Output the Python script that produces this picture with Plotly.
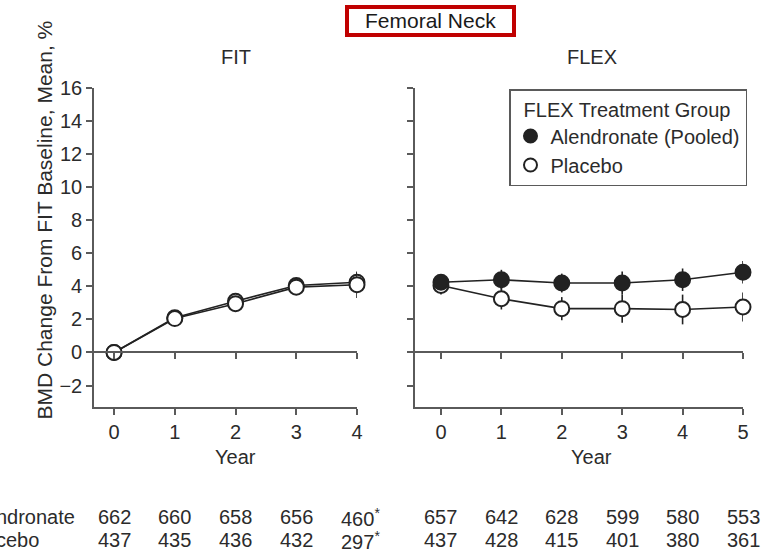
import plotly.graph_objects as go

# ---- data -------------------------------------------------------------
fit_years = [0, 1, 2, 3, 4]
fit_alendronate = [0.0, 2.1, 3.1, 4.05, 4.25]
fit_alendronate_err = [0.1, 0.15, 0.2, 0.2, 0.6]
fit_placebo = [0.0, 2.05, 2.95, 3.95, 4.1]
fit_placebo_err = [0.1, 0.15, 0.2, 0.2, 0.8]

flex_years = [0, 1, 2, 3, 4, 5]
flex_alendronate = [4.25, 4.4, 4.2, 4.2, 4.4, 4.85]
flex_alendronate_err = [0.3, 0.6, 0.57, 0.7, 0.68, 0.68]
flex_placebo = [4.05, 3.25, 2.65, 2.65, 2.6, 2.75]
flex_placebo_err = [0.55, 0.65, 0.7, 0.85, 0.9, 0.87]

fit_n_alendronate = ["662", "660", "658", "656", "460<sup>*</sup>"]
fit_n_placebo = ["437", "435", "436", "432", "297<sup>*</sup>"]
flex_n_alendronate = ["657", "642", "628", "599", "580", "553"]
flex_n_placebo = ["437", "428", "415", "401", "380", "361"]

y_ticks = [-2, 0, 2, 4, 6, 8, 10, 12, 14, 16]
y_range = [-3.3, 16]

# ---- styling ----------------------------------------------------------
W, H = 773, 553
FONT = "Liberation Sans, Arial, sans-serif"
TXT = "#2b2b2b"
AX = "#5a5a5a"
LINE = "#222222"
FS = 20

y_dom = [1 - 407 / H, 1 - 88 / H]
left_dom = [94 / W, 357 / W]
right_dom = [415 / W, 743 / W]
zero_pos = y_dom[0] + (0 - y_range[0]) / (y_range[1] - y_range[0]) * (y_dom[1] - y_dom[0])


def series(x, y, err, filled, xa, ya):
    return go.Scatter(
        x=x, y=y, mode="lines+markers", xaxis=xa, yaxis=ya,
        line=dict(color=LINE, width=1.6),
        marker=dict(size=15, symbol="circle",
                    color=LINE if filled else "white",
                    line=dict(color=LINE, width=2)),
        error_y=dict(type="data", array=err, visible=True,
                     color=LINE, thickness=1.6, width=0),
        cliponaxis=False, showlegend=False, hoverinfo="skip",
    )


fig = go.Figure()

# FIT panel: both groups open circles
fig.add_trace(series(fit_years, fit_alendronate, fit_alendronate_err, False, "x", "y"))
fig.add_trace(series(fit_years, fit_placebo, fit_placebo_err, False, "x", "y"))

# FLEX panel
fig.add_trace(series(flex_years, flex_placebo, flex_placebo_err, False, "x2", "y2"))
fig.add_trace(series(flex_years, flex_alendronate, flex_alendronate_err, True, "x2", "y2"))

# legend entries (markers only)
for name, filled in [("Alendronate (Pooled)", True), ("Placebo", False)]:
    fig.add_trace(go.Scatter(
        x=[None], y=[None], mode="markers", xaxis="x2", yaxis="y2", name=name,
        marker=dict(size=13, color=LINE if filled else "white",
                    line=dict(color=LINE, width=2)),
        showlegend=True,
    ))

# empty traces that carry the zero-reference axes
fig.add_trace(go.Scatter(x=[None], y=[None], xaxis="x3", yaxis="y", mode="markers",
                         showlegend=False, hoverinfo="skip"))
fig.add_trace(go.Scatter(x=[None], y=[None], xaxis="x4", yaxis="y2", mode="markers",
                         showlegend=False, hoverinfo="skip"))

axis_common = dict(showgrid=False, zeroline=False, showline=True, linecolor=AX,
                   linewidth=1.6, ticks="outside", ticklen=6, tickwidth=1.6,
                   tickcolor=AX, automargin=False,
                   tickfont=dict(family=FONT, size=FS, color=TXT))

fig.update_layout(
    width=W, height=H,
    margin=dict(l=0, r=0, t=0, b=0, pad=0, autoexpand=False),
    paper_bgcolor="white", plot_bgcolor="white",
    font=dict(family=FONT, size=FS, color=TXT),
    xaxis=dict(domain=left_dom, range=[-0.33, 4], anchor="y",
               tickvals=fit_years, **axis_common),
    yaxis=dict(domain=y_dom, range=y_range, anchor="x",
               tickvals=y_ticks, ticktext=["\u22122" if v == -2 else str(v) for v in y_ticks],
               **axis_common),
    xaxis2=dict(domain=right_dom, range=[-0.43, 5], anchor="y2",
                tickvals=flex_years, **axis_common),
    yaxis2=dict(domain=y_dom, range=y_range, anchor="x2",
                tickvals=y_ticks, showticklabels=False, **axis_common),
    xaxis3=dict(overlaying="x", matches="x", anchor="free", position=zero_pos,
                tickvals=fit_years, showticklabels=False, **axis_common),
    xaxis4=dict(overlaying="x2", matches="x2", anchor="free", position=zero_pos,
                tickvals=flex_years, showticklabels=False, **axis_common),
    legend=dict(
        x=509 / W, y=1 - 89 / H, xanchor="left", yanchor="top",
        bgcolor="white", bordercolor=AX, borderwidth=1.5,
        font=dict(family=FONT, size=FS, color=TXT),
        title=dict(text="\u00a0\u00a0FLEX Treatment Group",
                   font=dict(family=FONT, size=FS, color=TXT)),
        itemsizing="trace",
    ),
)


def label(text, x, y, xref="paper", size=FS, **kw):
    fig.add_annotation(text=text, xref=xref, yref="paper", x=x, y=y,
                       yanchor="middle", showarrow=False,
                       font=dict(family=FONT, size=size, color=kw.pop("color", TXT)), **kw)


# title with red frame
fig.add_shape(type="rect", xref="paper", yref="paper",
              x0=347 / W, x1=514 / W, y0=1 - 35 / H, y1=1 - 7 / H,
              line=dict(color="#c00000", width=4), fillcolor="white")
label("Femoral Neck", 430 / W, 1 - 21 / H, size=21, color="#1a1a1a")

# panel titles
label("FIT", 2, 1 - 57 / H, xref="x")
label("FLEX", 2.5, 1 - 57 / H, xref="x2")

# axis titles
label("Year", 2, 1 - 457 / H, xref="x")
label("Year", 2.5, 1 - 457 / H, xref="x2")
label("BMD Change From FIT Baseline, Mean, %", 30 / W, 1 - 220 / H, size=21, textangle=-90)

# participant counts under each panel
row_y = [1 - 517 / H, 1 - 540 / H]
for name, yy in zip(["Alendronate", "Placebo"], row_y):
    label(name, -35 / W, yy, xanchor="left")

for counts, yy in [(fit_n_alendronate, row_y[0]), (fit_n_placebo, row_y[1])]:
    for xv, t in zip(fit_years, counts):
        label(t, xv, yy, xref="x", xshift=3 if "<sup>" in t else 0)
for counts, yy in [(flex_n_alendronate, row_y[0]), (flex_n_placebo, row_y[1])]:
    for xv, t in zip(flex_years, counts):
        label(t, xv, yy, xref="x2")

fig.write_html("out.html")
